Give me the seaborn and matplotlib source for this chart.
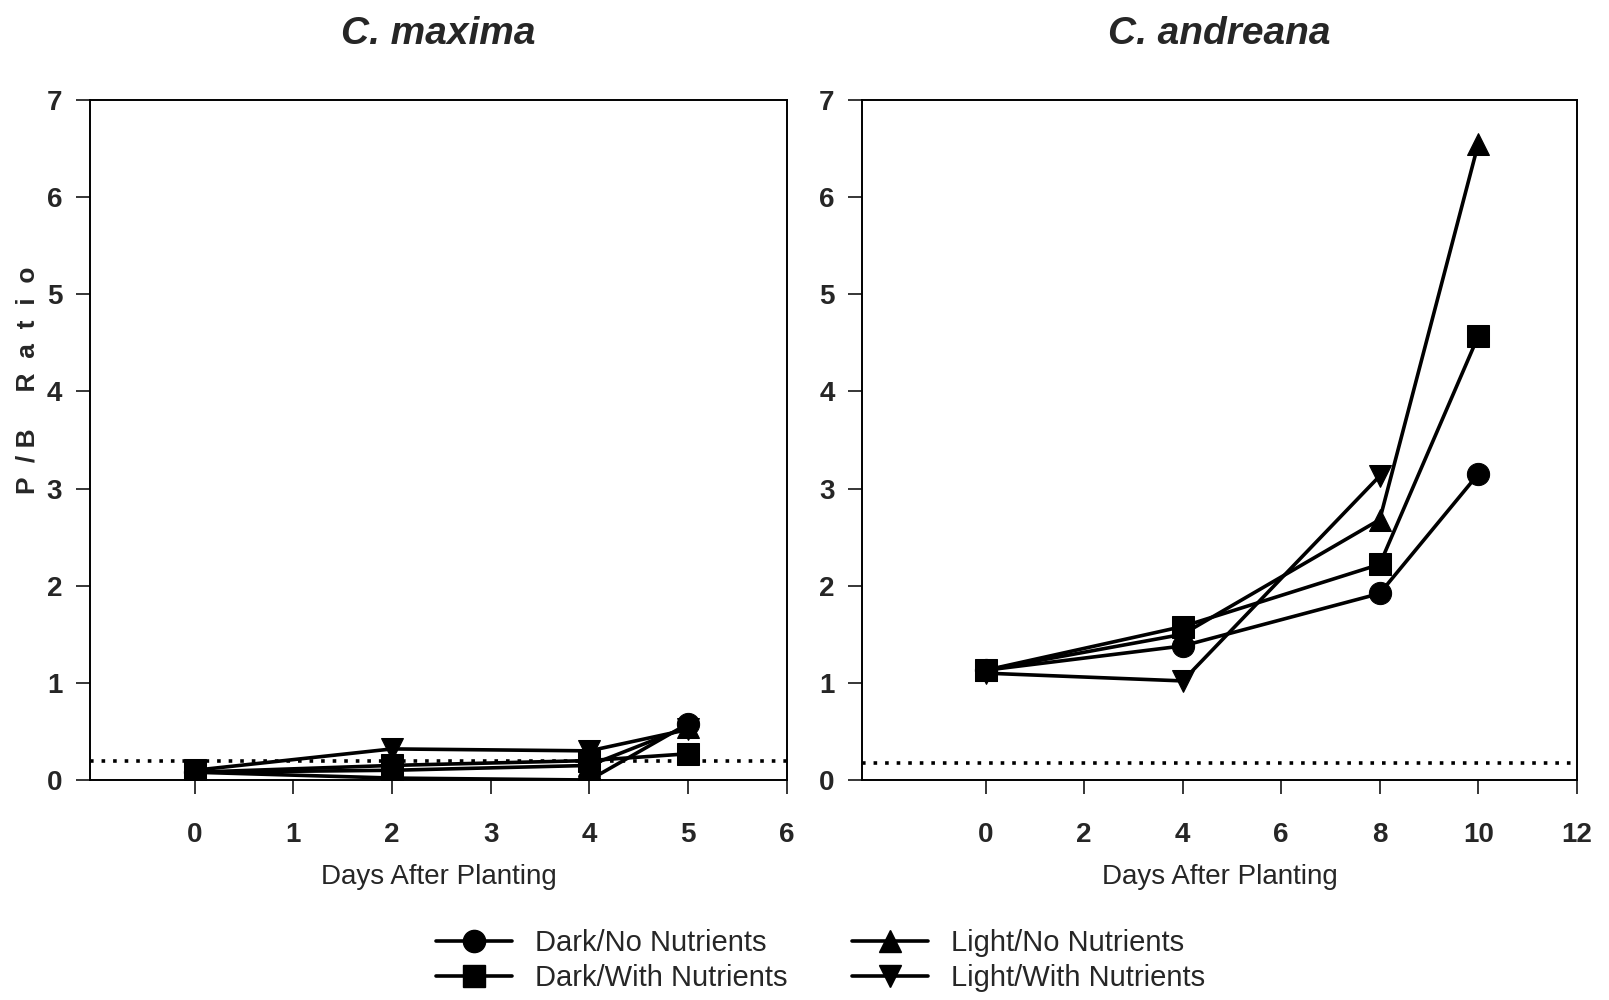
import numpy as np
import pandas as pd
import seaborn as sns
import matplotlib.pyplot as plt
from matplotlib.lines import Line2D

sns.set_style("white")
plt.rcParams['font.family'] = ['Liberation Sans', 'DejaVu Sans']

series = ["Dark/No Nutrients", "Dark/With Nutrients", "Light/No Nutrients", "Light/With Nutrients"]
markers = ["o", "s", "^", "v"]

# C. maxima
max_days = [0, 2, 4, 5]
max_dark_no = [0.08, 0.02, 0.0, 0.58]
max_dark_with = [0.08, 0.15, 0.2, 0.27]
max_light_no = [0.08, 0.1, 0.15, 0.55]
max_light_with = [0.1, 0.32, 0.3, 0.52]
max_threshold = 0.2

# C. andreana
and_days = [0, 4, 8, 10]
and_dark_no = [1.13, 1.38, 1.92, 3.15]
and_dark_with = [1.13, 1.58, 2.22, 4.57]
and_light_no = [1.13, 1.5, 2.68, 6.55]
and_light_with = [1.1, 1.02, 3.13, np.nan]
and_threshold = 0.17

panels = [
    ("C. maxima", max_days, [max_dark_no, max_dark_with, max_light_no, max_light_with],
     max_threshold, (-1.06, 6), range(0, 7)),
    ("C. andreana", and_days, [and_dark_no, and_dark_with, and_light_no, and_light_with],
     and_threshold, (-2.5, 12), range(0, 13, 2)),
]

fig = plt.figure(figsize=(16.09, 10), dpi=100)
axes = [fig.add_axes([0.056, 0.22, 0.433, 0.68]),
        fig.add_axes([0.536, 0.22, 0.444, 0.68])]

for ax, (title, days, vals, thr, xlim, xt) in zip(axes, panels):
    for name, m, v in zip(series, markers, vals):
        df = pd.DataFrame({"day": days, "ratio": v}).dropna()
        sns.lineplot(data=df, x="day", y="ratio", ax=ax, color="black", lw=2.6,
                     marker=m, markersize=16, markeredgecolor="black", legend=False)
    ax.axhline(thr, color="black", ls=(0, (1, 2.2)), lw=2.6)
    ax.set_xlim(*xlim)
    ax.set_ylim(0, 7)
    ax.set_xticks(list(xt))
    ax.set_yticks(range(0, 8))
    ax.tick_params(direction="out", length=10, width=1.3, bottom=True, left=True,
                   labelsize=20, pad=20)
    ax.tick_params(axis="y", pad=10)
    for lab in ax.get_xticklabels() + ax.get_yticklabels():
        lab.set_fontweight("bold")
    for s in ax.spines.values():
        s.set_color("black")
        s.set_linewidth(1.4)
    ax.set_xlabel("Days After Planting", fontsize=20, labelpad=12)
    ax.set_ylabel("")
    ax.set_title(title, fontsize=28, fontweight="bold", style="italic", pad=40)

fig.text(0.017, 0.62, "P  / B     R  a  t  i  o", rotation=90, ha="center", va="center",
         fontsize=19, fontweight="bold")

handles = [Line2D([0], [0], color="black", lw=2.6, marker=m, markersize=16)
           for m in markers]
fig.legend(handles, series, loc="lower center", bbox_to_anchor=(0.51, -0.018), ncol=2,
           frameon=False, fontsize=21, handlelength=2.6, columnspacing=2.2,
           labelspacing=0.22, handletextpad=0.8)

fig.savefig("out.png", dpi=100)
